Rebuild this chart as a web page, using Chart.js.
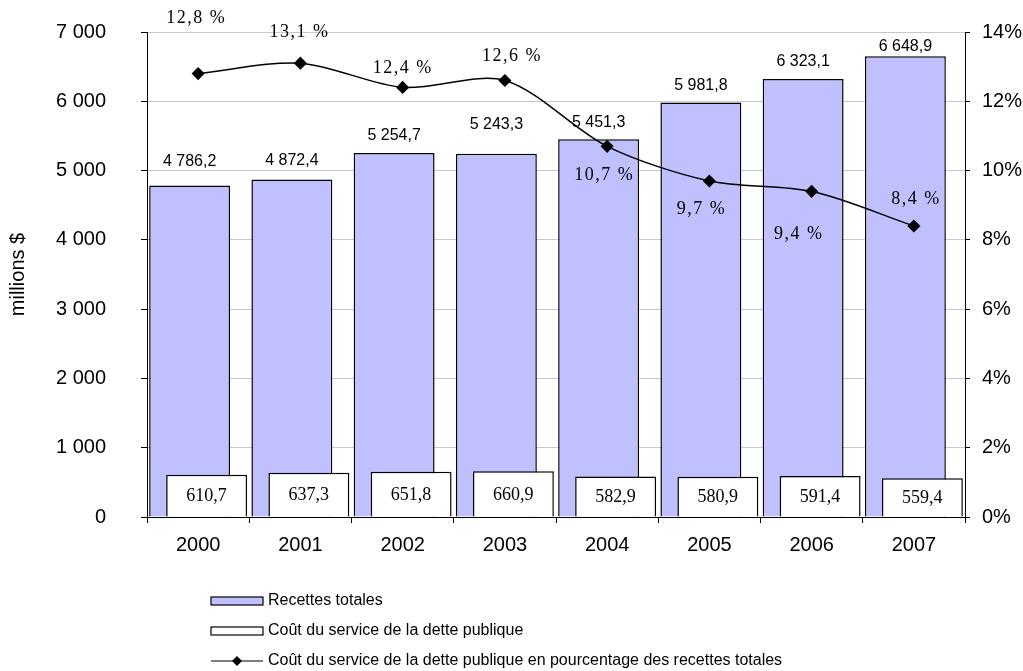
<!DOCTYPE html>
<html lang="fr">
<head>
<meta charset="utf-8">
<title>Recettes totales et coût du service de la dette</title>
<script src="https://cdn.jsdelivr.net/npm/chart.js@4.4.1/dist/chart.umd.min.js"></script>
<style>
  html, body { margin: 0; padding: 0; background: #fff; }
  #wrap { width: 1023px; height: 671px; position: relative; }
</style>
</head>
<body>
<div id="wrap"><canvas id="grafico"></canvas></div>
<script>
// Données
const annees = ['2000', '2001', '2002', '2003', '2004', '2005', '2006', '2007'];
const recettesTotales = [4786.2, 4872.4, 5254.7, 5243.3, 5451.3, 5981.8, 6323.1, 6648.9];
const serviceDette = [610.7, 637.3, 651.8, 660.9, 582.9, 580.9, 591.4, 559.4];
const pourcentage = [12.8, 13.1, 12.4, 12.6, 10.7, 9.7, 9.4, 8.4];

// Décalage des étiquettes (en pixels), placées à la main dans l'original
const decalRecettesY = [-24, -19, -17, -29, -17, -17, -17, -10];
const decalPctX = [-2, -1, 0, 7, -3, -8, -13, 2];
const decalPctY = [-55, -31, -19, -24, 29, 28, 43, -27];

const SANS = "'Liberation Sans', Arial, sans-serif";
const SERIF = "'Liberation Serif', 'Times New Roman', serif";
const VIOLET = '#C0C0FF';

function formatNombre(v, dec) {
    const parts = v.toFixed(dec).split('.');
    const ent = parts[0].replace(/\B(?=(\d{3})+(?!\d))/g, ' ');
    return parts.length > 1 ? ent + ',' + parts[1] : ent;
}

// Dessine la série blanche par-dessus la série violette
const ordreBarres = {
    id: 'ordreBarres',
    beforeDatasetDraw(chart, args) {
        if (args.index === 1) return false;
    },
    afterDatasetDraw(chart, args) {
        if (args.index === 0) {
            chart.getDatasetMeta(1).controller.draw();
        }
    }
};

// Étiquettes de valeurs
const etiquettes = {
    id: 'etiquettes',
    afterDatasetsDraw(chart) {
        const ctx = chart.ctx;
        ctx.save();
        ctx.fillStyle = '#000';
        ctx.textAlign = 'center';
        ctx.textBaseline = 'middle';

        // recettes totales, au-dessus des barres
        ctx.font = '16px ' + SANS;
        chart.getDatasetMeta(0).data.forEach((bar, i) => {
            ctx.fillText(formatNombre(recettesTotales[i], 1), bar.x, bar.y + decalRecettesY[i]);
        });

        // coût du service de la dette, dans les barres blanches
        ctx.font = '18px ' + SERIF;
        chart.getDatasetMeta(1).data.forEach((bar, i) => {
            ctx.fillText(formatNombre(serviceDette[i], 1), bar.x, (bar.y + bar.base) / 2 + 1);
        });

        // pourcentages
        ctx.font = '18px ' + SERIF;
        ctx.letterSpacing = '1.5px';
        chart.getDatasetMeta(2).data.forEach((pt, i) => {
            ctx.fillText(formatNombre(pourcentage[i], 1) + ' %', pt.x + decalPctX[i], pt.y + decalPctY[i]);
        });
        ctx.restore();
    }
};

// Légende en colonne sous le graphique
const legendeColonne = {
    id: 'legendeColonne',
    afterDraw(chart) {
        const ctx = chart.ctx;
        const x0 = chart.chartArea.left + 64;
        const y0 = chart.chartArea.bottom + 84;
        const ecart = 30;
        const ds = chart.data.datasets;
        ctx.save();
        ctx.font = '16px ' + SANS;
        ctx.fillStyle = '#000';
        ctx.textAlign = 'left';
        ctx.textBaseline = 'middle';

        [0, 1].forEach((k) => {
            const y = y0 + k * ecart;
            ctx.fillStyle = ds[k].backgroundColor;
            ctx.fillRect(x0, y - 4, 52, 8);
            ctx.strokeStyle = '#000';
            ctx.lineWidth = 1.2;
            ctx.strokeRect(x0, y - 4, 52, 8);
            ctx.fillStyle = '#000';
            ctx.fillText(ds[k].label, x0 + 57, y);
        });

        const y = y0 + 2 * ecart;
        ctx.beginPath();
        ctx.moveTo(x0, y);
        ctx.lineTo(x0 + 52, y);
        ctx.strokeStyle = '#000';
        ctx.lineWidth = 1.2;
        ctx.stroke();
        ctx.beginPath();
        ctx.moveTo(x0 + 26, y - 5);
        ctx.lineTo(x0 + 31, y);
        ctx.lineTo(x0 + 26, y + 5);
        ctx.lineTo(x0 + 21, y);
        ctx.closePath();
        ctx.fill();
        ctx.fillText(ds[2].label, x0 + 57, y);
        ctx.restore();
    }
};

const ctx = document.getElementById('grafico').getContext('2d');
new Chart(ctx, {
    type: 'bar',
    data: {
        labels: annees,
        datasets: [
            {
                label: 'Recettes totales',
                data: recettesTotales,
                backgroundColor: VIOLET,
                borderColor: '#000',
                borderWidth: 1.5,
                categoryPercentage: 0.3325,
                barPercentage: 4.76,
                yAxisID: 'y'
            },
            {
                label: 'Coût du service de la dette publique',
                data: serviceDette,
                backgroundColor: '#FFFFFF',
                borderColor: '#000',
                borderWidth: 1.5,
                categoryPercentage: 0.3325,
                barPercentage: 4.76,
                yAxisID: 'y'
            },
            {
                type: 'line',
                label: 'Coût du service de la dette publique en pourcentage des recettes totales',
                data: pourcentage,
                yAxisID: 'y1',
                borderColor: '#000',
                borderWidth: 1.5,
                backgroundColor: '#000',
                pointStyle: 'rectRot',
                pointRadius: 5.5,
                pointBackgroundColor: '#000',
                pointBorderColor: '#000',
                tension: 0.3,
                fill: false,
                order: -1
            }
        ]
    },
    options: {
        responsive: true,
        maintainAspectRatio: false,
        animation: false,
        layout: { padding: { top: 32, bottom: 109, left: 0, right: 0 } },
        plugins: {
            legend: { display: false },
            tooltip: { enabled: false }
        },
        scales: {
            x: {
                offset: true,
                grid: { drawOnChartArea: false, offset: true, tickLength: 6, tickColor: '#000', tickWidth: 1 },
                border: { color: '#000', width: 1 },
                ticks: { color: '#000', font: { family: SANS, size: 20 }, padding: 10 },
                afterFit(scale) { scale.height = 45; }
            },
            y: {
                position: 'left',
                min: 0,
                max: 7000,
                ticks: {
                    stepSize: 1000,
                    color: '#000',
                    font: { family: SANS, size: 20 },
                    padding: 35,
                    callback: (v) => formatNombre(v, 0)
                },
                grid: { color: '#C8C8C8', lineWidth: 1, tickLength: 6, tickColor: '#000' },
                border: { color: '#000', width: 1 },
                title: {
                    display: true,
                    text: 'millions $',
                    color: '#000',
                    font: { family: SANS, size: 20 },
                    padding: { top: 6, bottom: 4 }
                },
                afterFit(scale) {
                    scale.width = 147;
                    scale.paddingTop = 12;
                    scale.paddingBottom = 12;
                }
            },
            y1: {
                position: 'right',
                min: 0,
                max: 14,
                ticks: {
                    stepSize: 2,
                    color: '#000',
                    font: { family: SANS, size: 20 },
                    padding: 12,
                    callback: (v) => v + '%'
                },
                grid: { drawOnChartArea: false, tickLength: 5, tickColor: '#000' },
                border: { color: '#000', width: 1 },
                afterFit(scale) {
                    scale.width = 58;
                    scale.paddingTop = 12;
                    scale.paddingBottom = 12;
                }
            }
        }
    },
    plugins: [ordreBarres, etiquettes, legendeColonne]
});
</script>
</body>
</html>
